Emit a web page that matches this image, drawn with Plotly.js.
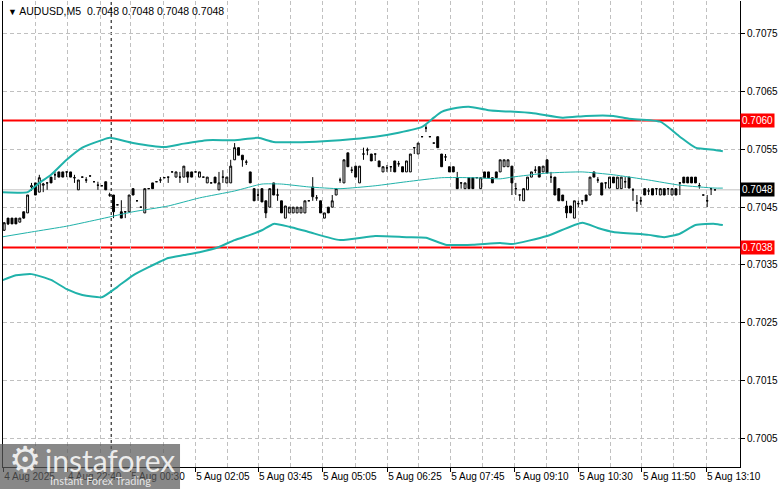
<!DOCTYPE html>
<html>
<head>
<meta charset="utf-8">
<script src="https://cdn.plot.ly/plotly-3.0.1.min.js"></script>
<style>
html,body{margin:0;padding:0;background:#fff;}
#chart{width:781px;height:489px;}
</style>
</head>
<body>
<div id="chart"></div>
<script>
// ---- Data (AUDUSD M5) ----
const candleOpen = [
0.70410,0.70431,0.70431,0.70431,0.70424,0.70442,0.70440,0.70485,0.70492,0.70476,
0.70488,0.70492,0.70502,0.70506,0.70511,0.70511,0.70511,0.70511,0.70501,0.70480,
0.70502,0.70497,0.70504,0.70494,0.70488,0.70487,0.70494,0.70471,0.70471,0.70454,
0.70442,0.70442,0.70442,0.70482,0.70461,0.70450,0.70440,0.70482,0.70492,0.70494,
0.70497,0.70501,0.70502,0.70511,0.70502,0.70502,0.70502,0.70511,0.70511,0.70511,
0.70502,0.70502,0.70492,0.70492,0.70502,0.70480,0.70502,0.70492,0.70492,0.70532,
0.70553,0.70540,0.70528,0.70511,0.70482,0.70471,0.70482,0.70461,0.70450,0.70492,
0.70471,0.70461,0.70431,0.70440,0.70440,0.70440,0.70440,0.70440,0.70461,0.70485,
0.70466,0.70461,0.70431,0.70450,0.70450,0.70471,0.70497,0.70492,0.70544,0.70514,
0.70521,0.70492,0.70542,0.70549,0.70542,0.70542,0.70530,0.70511,0.70518,0.70520,
0.70530,0.70525,0.70520,0.70511,0.70511,0.70553,0.70542,0.70572,0.70587,0.70572,
0.70561,0.70572,0.70542,0.70537,0.70520,0.70520,0.70501,0.70492,0.70482,0.70501,
0.70501,0.70501,0.70482,0.70511,0.70511,0.70501,0.70511,0.70511,0.70520,0.70520,
0.70521,0.70482,0.70471,0.70461,0.70480,0.70502,0.70514,0.70520,0.70511,0.70532,
0.70502,0.70502,0.70482,0.70471,0.70452,0.70452,0.70431,0.70456,0.70461,0.70471,
0.70471,0.70511,0.70497,0.70492,0.70492,0.70483,0.70502,0.70482,0.70482,0.70494,
0.70502,0.70480,0.70457,0.70461,0.70482,0.70478,0.70482,0.70482,0.70471,0.70482,
0.70482,0.70471,0.70482,0.70492,0.70502,0.70502,0.70502,0.70502,0.70487,0.70471,
0.70461,0.70482,0.70480];
const candleHigh = [
0.70424,0.70431,0.70431,0.70431,0.70431,0.70442,0.70471,0.70492,0.70492,0.70506,
0.70492,0.70492,0.70502,0.70511,0.70511,0.70511,0.70511,0.70511,0.70506,0.70497,
0.70503,0.70502,0.70504,0.70494,0.70494,0.70487,0.70494,0.70475,0.70471,0.70454,
0.70462,0.70442,0.70471,0.70482,0.70461,0.70450,0.70482,0.70482,0.70492,0.70494,
0.70502,0.70501,0.70502,0.70511,0.70511,0.70511,0.70521,0.70511,0.70511,0.70511,
0.70511,0.70502,0.70502,0.70492,0.70502,0.70511,0.70514,0.70502,0.70532,0.70561,
0.70553,0.70540,0.70532,0.70511,0.70482,0.70482,0.70482,0.70461,0.70482,0.70492,
0.70482,0.70461,0.70452,0.70450,0.70450,0.70450,0.70450,0.70461,0.70461,0.70502,
0.70471,0.70461,0.70440,0.70450,0.70471,0.70482,0.70501,0.70532,0.70544,0.70520,
0.70521,0.70521,0.70553,0.70553,0.70542,0.70542,0.70530,0.70520,0.70523,0.70520,
0.70530,0.70530,0.70520,0.70530,0.70542,0.70553,0.70561,0.70572,0.70592,0.70572,
0.70561,0.70572,0.70542,0.70542,0.70520,0.70520,0.70511,0.70492,0.70492,0.70501,
0.70501,0.70501,0.70501,0.70511,0.70511,0.70501,0.70511,0.70532,0.70532,0.70532,
0.70521,0.70492,0.70471,0.70482,0.70502,0.70511,0.70521,0.70520,0.70521,0.70532,
0.70511,0.70502,0.70482,0.70471,0.70461,0.70452,0.70461,0.70461,0.70461,0.70471,
0.70502,0.70511,0.70502,0.70492,0.70492,0.70502,0.70502,0.70502,0.70502,0.70502,
0.70502,0.70483,0.70471,0.70468,0.70482,0.70483,0.70482,0.70482,0.70482,0.70482,
0.70482,0.70482,0.70482,0.70492,0.70502,0.70502,0.70502,0.70502,0.70492,0.70471,
0.70471,0.70482,0.70480];
const candleLow = [
0.70409,0.70419,0.70421,0.70421,0.70424,0.70430,0.70440,0.70478,0.70471,0.70476,
0.70476,0.70480,0.70492,0.70497,0.70502,0.70502,0.70502,0.70502,0.70492,0.70480,
0.70501,0.70492,0.70504,0.70494,0.70480,0.70487,0.70480,0.70468,0.70431,0.70454,
0.70431,0.70431,0.70442,0.70471,0.70461,0.70450,0.70440,0.70482,0.70482,0.70494,
0.70492,0.70501,0.70492,0.70511,0.70502,0.70492,0.70502,0.70492,0.70502,0.70511,
0.70502,0.70502,0.70492,0.70492,0.70492,0.70480,0.70492,0.70492,0.70492,0.70532,
0.70540,0.70520,0.70523,0.70492,0.70461,0.70461,0.70459,0.70431,0.70450,0.70471,
0.70461,0.70440,0.70431,0.70440,0.70440,0.70440,0.70440,0.70440,0.70461,0.70461,
0.70461,0.70440,0.70431,0.70440,0.70450,0.70471,0.70492,0.70492,0.70520,0.70509,
0.70502,0.70492,0.70532,0.70540,0.70530,0.70530,0.70520,0.70511,0.70511,0.70511,
0.70511,0.70520,0.70511,0.70511,0.70511,0.70542,0.70542,0.70572,0.70580,0.70572,
0.70561,0.70553,0.70520,0.70530,0.70511,0.70511,0.70482,0.70482,0.70482,0.70482,
0.70482,0.70501,0.70482,0.70501,0.70501,0.70492,0.70501,0.70511,0.70520,0.70520,
0.70471,0.70471,0.70461,0.70461,0.70480,0.70502,0.70509,0.70502,0.70511,0.70509,
0.70492,0.70471,0.70461,0.70461,0.70431,0.70440,0.70431,0.70450,0.70454,0.70461,
0.70471,0.70502,0.70492,0.70471,0.70482,0.70483,0.70492,0.70482,0.70482,0.70483,
0.70483,0.70461,0.70442,0.70454,0.70471,0.70471,0.70471,0.70471,0.70471,0.70471,
0.70471,0.70471,0.70471,0.70471,0.70492,0.70492,0.70492,0.70492,0.70482,0.70471,
0.70450,0.70471,0.70480];
const candleClose = [
0.70423,0.70421,0.70421,0.70421,0.70431,0.70431,0.70471,0.70487,0.70471,0.70501,
0.70490,0.70492,0.70492,0.70506,0.70502,0.70502,0.70511,0.70502,0.70501,0.70497,
0.70502,0.70497,0.70504,0.70494,0.70488,0.70487,0.70480,0.70471,0.70442,0.70454,
0.70431,0.70442,0.70471,0.70471,0.70461,0.70450,0.70482,0.70482,0.70482,0.70494,
0.70497,0.70501,0.70502,0.70511,0.70511,0.70502,0.70521,0.70502,0.70502,0.70511,
0.70511,0.70502,0.70502,0.70492,0.70492,0.70492,0.70502,0.70502,0.70521,0.70553,
0.70540,0.70532,0.70528,0.70492,0.70461,0.70471,0.70459,0.70440,0.70482,0.70471,
0.70471,0.70440,0.70452,0.70450,0.70450,0.70450,0.70450,0.70461,0.70461,0.70468,
0.70466,0.70440,0.70440,0.70440,0.70461,0.70482,0.70497,0.70532,0.70520,0.70514,
0.70502,0.70521,0.70542,0.70549,0.70530,0.70542,0.70520,0.70520,0.70518,0.70520,
0.70511,0.70525,0.70511,0.70530,0.70542,0.70553,0.70561,0.70572,0.70587,0.70572,
0.70561,0.70553,0.70520,0.70537,0.70511,0.70511,0.70482,0.70492,0.70492,0.70482,
0.70482,0.70501,0.70501,0.70501,0.70501,0.70492,0.70501,0.70532,0.70532,0.70532,
0.70492,0.70482,0.70471,0.70482,0.70502,0.70511,0.70514,0.70502,0.70521,0.70509,
0.70502,0.70471,0.70461,0.70461,0.70440,0.70440,0.70461,0.70456,0.70461,0.70461,
0.70502,0.70502,0.70497,0.70471,0.70492,0.70502,0.70492,0.70502,0.70502,0.70494,
0.70483,0.70480,0.70457,0.70461,0.70471,0.70478,0.70471,0.70482,0.70482,0.70471,
0.70482,0.70482,0.70471,0.70492,0.70492,0.70492,0.70492,0.70492,0.70487,0.70471,
0.70461,0.70482,0.70480];

// Bollinger bands (sampled along the bar index)
const upperBandBar = [-1,4,6,9,12,16,20,25,27,33,41,46,52,59,65,69,78,86,95,101,107,110,112,116,119,124,135,143,149,156,160,168,173,177,182,184];
const upperBand = [0.70476,0.70475,0.70476,0.70492,0.70506,0.70532,0.70553,0.70566,0.70570,0.70561,0.70554,0.70560,0.70566,0.70566,0.70570,0.70563,0.70563,0.70566,0.70572,0.70579,0.70589,0.70605,0.70615,0.70622,0.70624,0.70618,0.70613,0.70605,0.70608,0.70608,0.70603,0.70598,0.70572,0.70553,0.70549,0.70547];
const middleBandBar = [-1,7,16,25,33,42,50,59,66,71,78,86,95,103,112,120,127,130,139,148,156,165,173,182,184];
const middleBand = [0.70398,0.70407,0.70417,0.70430,0.70442,0.70452,0.70466,0.70478,0.70490,0.70490,0.70485,0.70482,0.70487,0.70494,0.70501,0.70501,0.70499,0.70502,0.70509,0.70511,0.70506,0.70497,0.70488,0.70483,0.70483];
const lowerBandBar = [-1,3,7,12,16,20,25,29,33,37,42,46,50,55,59,63,66,69,73,78,86,95,103,108,113,120,127,130,139,148,152,156,165,169,173,177,182,184];
const lowerBand = [0.70322,0.70332,0.70334,0.70324,0.70308,0.70298,0.70294,0.70312,0.70332,0.70346,0.70362,0.70367,0.70372,0.70381,0.70393,0.70402,0.70410,0.70421,0.70416,0.70407,0.70393,0.70400,0.70398,0.70397,0.70385,0.70385,0.70388,0.70386,0.70400,0.70423,0.70414,0.70407,0.70402,0.70398,0.70404,0.70419,0.70421,0.70419];

// Levels
const levelPrices = [0.7060, 0.7038];
const levelLabels = ["0.7060", "0.7038"];
const bidPrice = 0.7048;
const bidLabel = "0.7048";
const daySeparatorBar = 27.4;

// Axis ticks
const priceTicks = [0.7005, 0.7015, 0.7025, 0.7035, 0.7045, 0.7055, 0.7065, 0.7075];
const timeTickBars = [-0.25, 16.1, 32.3, 48.9, 65.0, 81.4, 98.1, 114.2, 130.6, 147.0, 163.3, 179.7];
const timeTickLabels = ["4 Aug 2025","4 Aug 22:40","5 Aug 00:30","5 Aug 02:05","5 Aug 03:45","5 Aug 05:05","5 Aug 06:25","5 Aug 07:45","5 Aug 09:10","5 Aug 10:30","5 Aug 11:50","5 Aug 13:10"];
const timeGridMidBars = [7.9, 24.6, 40.7, 57.1, 73.2, 89.9, 106.1, 122.4, 138.8, 155.2, 171.5];

const symbolTitle = "AUDUSD,M5";
const ohlcTitle = ["0.7048", "0.7048", "0.7048", "0.7048"];

// ---- Build chart ----
const barIndex = candleOpen.map((_, i) => i);
const FONT = "Liberation Sans, Arial, sans-serif";
const bandColor = "#20b2aa";

const traces = [
  {
    type: "candlestick",
    x: barIndex,
    open: candleOpen, high: candleHigh, low: candleLow, close: candleClose,
    increasing: {line: {color: "#000000", width: 1}, fillcolor: "#ffffff"},
    decreasing: {line: {color: "#000000", width: 1}, fillcolor: "#000000"},
    whiskerwidth: 0,
    hoverinfo: "skip",
    showlegend: false
  },
  {type: "scatter", mode: "lines", x: upperBandBar, y: upperBand,
   line: {color: bandColor, width: 2, shape: "spline", smoothing: 0.5}, hoverinfo: "skip", showlegend: false},
  {type: "scatter", mode: "lines", x: middleBandBar, y: middleBand,
   line: {color: bandColor, width: 1, shape: "spline", smoothing: 0.5}, hoverinfo: "skip", showlegend: false},
  {type: "scatter", mode: "lines", x: lowerBandBar, y: lowerBand,
   line: {color: bandColor, width: 2, shape: "spline", smoothing: 0.5}, hoverinfo: "skip", showlegend: false}
];

const shapes = [];
shapes.push({type: "line", xref: "paper", x0: 0, x1: 1, yref: "y", y0: bidPrice, y1: bidPrice,
  line: {color: "#c0c0c0", width: 1}, layer: "below"});
levelPrices.forEach(p => shapes.push({type: "line", xref: "paper", x0: 0, x1: 1, yref: "y", y0: p, y1: p,
  line: {color: "#ff0000", width: 2}, layer: "below"}));
shapes.push({type: "line", xref: "x", x0: daySeparatorBar, x1: daySeparatorBar, yref: "paper", y0: 0, y1: 1,
  line: {color: "#000000", width: 1, dash: "3px,3px"}, layer: "below"});
// watermark panel
shapes.push({type: "rect", xref: "paper", yref: "paper", x0: -0.0045, x1: 0.2402, y0: -0.0475, y1: 0.0494,
  fillcolor: "rgba(90,90,90,0.72)", line: {width: 0}, layer: "above"});

const annotations = [];
annotations.push({xref: "paper", yref: "paper", x: 0.004, y: 0.9785, xanchor: "left", yanchor: "middle",
  showarrow: false, font: {family: FONT, size: 10.5, color: "#000000"},
  text: '<span style="font-size:9px">▼</span> ' + symbolTitle + '&nbsp;&nbsp;' + ohlcTitle.join(' ')});
levelPrices.forEach((p, k) => annotations.push({xref: "paper", yref: "y", x: 1.0005, y: p, xanchor: "left", yanchor: "middle",
  showarrow: false, text: levelLabels[k], bgcolor: "#ff0000", borderpad: 1,
  font: {family: FONT, size: 10, color: "#ffffff"}}));
annotations.push({xref: "paper", yref: "y", x: 1.0005, y: bidPrice, xanchor: "left", yanchor: "middle",
  showarrow: false, text: bidLabel, bgcolor: "#000000", borderpad: 1,
  font: {family: FONT, size: 10, color: "#ffffff"}});
// watermark texts
annotations.push({xref: "paper", yref: "paper", x: 0.005, y: 0.016, xanchor: "left", yanchor: "middle",
  showarrow: false, text: "⚙", font: {family: "DejaVu Sans", size: 36, color: "rgba(255,255,255,0.85)"}});
annotations.push({xref: "paper", yref: "paper", x: 0.054, y: 0.014, xanchor: "left", yanchor: "middle",
  showarrow: false, text: "instaforex", font: {family: "Lato, Open Sans, sans-serif", size: 30, color: "rgba(255,255,255,0.85)"}});
annotations.push({xref: "paper", yref: "paper", x: 0.061, y: -0.029, xanchor: "left", yanchor: "middle",
  showarrow: false, text: "Instant Forex Trading", font: {family: "Lato, Open Sans, sans-serif", size: 11, color: "rgba(255,255,255,0.8)"}});

const layout = {
  width: 781, height: 489,
  margin: {l: 3, r: 41, t: 1, b: 22, pad: 0},
  paper_bgcolor: "#ffffff", plot_bgcolor: "#ffffff",
  showlegend: false,
  boxgap: 0.3,
  font: {family: FONT, size: 10, color: "#000000"},
  xaxis: {
    type: "linear",
    range: [-0.3, 188.4],
    rangeslider: {visible: false},
    tickmode: "array", tickvals: timeTickBars, ticktext: timeTickLabels,
    ticklabelposition: "outside right",
    ticks: "outside", ticklen: 4, tickcolor: "#000000", tickwidth: 1,
    tickfont: {family: FONT, size: 10, color: "#000000"},
    showgrid: true, gridcolor: "#c0c0c0", griddash: "4px,3px", gridwidth: 1,
    minor: {tickmode: "array", tickvals: timeGridMidBars, showgrid: true, gridcolor: "#c0c0c0", griddash: "4px,3px", ticks: ""},
    showline: true, linecolor: "#000000", linewidth: 1, mirror: false,
    zeroline: false, fixedrange: true
  },
  yaxis: {
    side: "right",
    range: [0.70000, 0.70807],
    tickmode: "array", tickvals: priceTicks, ticktext: priceTicks.map(v => v.toFixed(4)),
    ticks: "outside", ticklen: 4, tickcolor: "#000000", tickwidth: 1,
    tickfont: {family: FONT, size: 10, color: "#000000"},
    showgrid: true, gridcolor: "#c0c0c0", griddash: "4px,3px", gridwidth: 1,
    showline: true, linecolor: "#000000", linewidth: 1, mirror: true,
    zeroline: false, fixedrange: true
  },
  shapes: shapes,
  annotations: annotations
};

Plotly.newPlot("chart", traces, layout, {staticPlot: true, displayModeBar: false});
</script>
</body>
</html>
